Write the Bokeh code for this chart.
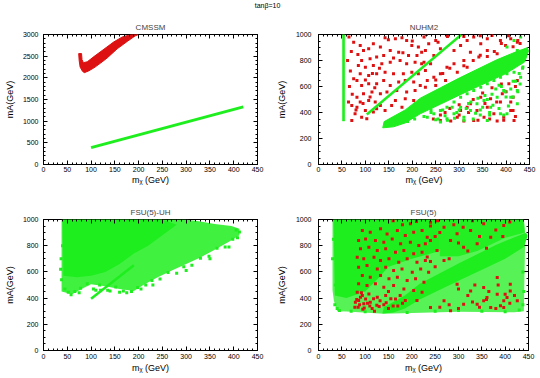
from bokeh.plotting import figure
from bokeh.layouts import column, row
from bokeh.models import Range1d, FixedTicker, LinearAxis, Label, CustomJSTickFormatter
from bokeh.embed import file_html
from bokeh.resources import INLINE

FONT = "Liberation Sans"
GREEN = "#1eee1e"
RED = "#dd1111"

main_title = "tan\u03b2=10"
x_label = "m\u1d6a (GeV)"
y_label = "mA(GeV)"
panel_titles = ["CMSSM", "NUHM2", "FSU(5)-UH", "FSU(5)"]

x_ticks = [0, 50, 100, 150, 200, 250, 300, 350, 400, 450]
x_minor = list(range(0, 451, 10))
y_ticks_cmssm = [0, 500, 1000, 1500, 2000, 2500, 3000]
y_minor_cmssm = list(range(0, 3001, 100))
y_ticks_k = [0, 200, 400, 600, 800, 1000]
y_minor_k = list(range(0, 1001, 50))

# ---------------- CMSSM ----------------
cmssm_red_band_x = [74, 75, 77, 82, 86, 95, 106, 120, 134, 155, 176, 193, 200, 185, 166, 148, 127, 106, 92, 84, 81, 80]
cmssm_red_band_y = [2560, 2400, 2250, 2150, 2120, 2160, 2230, 2340, 2460, 2670, 2840, 2970, 3000, 3000, 2945, 2830, 2660, 2490, 2370, 2350, 2420, 2560]
cmssm_green_x = [100, 420]
cmssm_green_y = [390, 1330]

# ---------------- NUHM2 ----------------
nuhm_strip_x = [51, 56, 56, 51]
nuhm_strip_y = [335, 335, 1000, 1000]
nuhm_line_x = [103, 305]
nuhm_line_y = [385, 1000]
nuhm_band_x = [137, 140, 185, 217, 260, 300, 340, 380, 420, 445, 448, 440, 400, 340, 300, 260, 217, 185, 160]
nuhm_band_y = [282, 330, 420, 510, 590, 665, 735, 805, 865, 898, 875, 790, 700, 600, 533, 464, 390, 320, 290]
nuhm_green_x = [232, 246, 260, 274, 289, 303, 317, 331, 346, 360, 374, 388, 402, 417, 431, 424, 410, 395, 381, 367, 353, 338,
                289, 310, 260, 324, 360, 402, 424, 388, 303, 274, 402, 424, 431, 417, 150, 165, 190, 205, 240, 345, 365, 430, 436,
                250, 270, 335, 355, 385, 415, 300, 320, 372, 398, 240, 225,
                255, 265, 285, 295, 315, 325, 340, 350, 360, 370, 378, 390, 400, 410, 420, 428, 435, 405, 385, 365, 345, 330,
                310, 290, 275, 395, 415, 425]
nuhm_green_y = [364, 390, 416, 441, 480, 518, 544, 569, 595, 621, 646, 672, 698, 710, 672, 569, 518, 569, 518, 441, 493, 467,
                390, 364, 326, 416, 339, 390, 467, 390, 441, 352, 903, 877, 980, 954, 300, 320, 330, 350, 400, 420, 380, 620, 750,
                345, 375, 395, 530, 610, 640, 420, 470, 455, 560, 420, 370,
                350, 420, 440, 400, 430, 480, 510, 440, 500, 540, 580, 600, 520, 580, 640, 700, 740, 450, 430, 400, 380, 350,
                340, 355, 340, 380, 520, 560]
nuhm_red_x = [89, 96, 84, 107, 117, 132, 142, 149, 164, 178, 188, 199, 213, 220, 210, 192, 171, 153, 139, 124, 110, 92, 85, 100,
              117, 135, 153, 174, 188, 206, 220, 228, 213, 199, 181, 160, 142, 124, 107, 89, 82, 92, 107, 124, 139, 153, 171, 185,
              203, 217, 206, 188, 167, 146, 132, 114, 96, 82, 89, 107, 121, 132, 142, 117, 100, 82, 71, 78, 92, 71, 103, 124, 164,
              185, 203, 178, 156,
              225, 235, 228, 250, 260, 246, 225, 239, 289, 303, 317, 331, 346, 360, 370, 388, 399, 410, 424, 324, 342, 310, 289, 274,
              260, 246, 232, 228, 250, 271, 296, 317, 360, 381, 324, 338, 360, 353, 374, 388, 395, 410, 417, 381, 331, 310, 296, 282,
              260, 392, 406, 424, 415, 415, 367, 346, 317, 303, 425,
              65, 75, 70, 62, 68, 75, 66, 72, 64, 80, 95, 110, 120, 100, 115, 130, 160, 180, 200, 230,
              250, 265, 280, 310, 330, 345, 360, 375, 390, 405, 415, 430, 345, 310, 275, 255,
              280, 300, 330, 350, 370, 390, 400, 420, 410, 380, 355, 320, 300, 270, 245, 260, 340, 365, 395, 420]
nuhm_red_y = [916, 877, 846, 890, 928, 903, 975, 959, 967, 975, 954, 916, 903, 864, 839, 839, 864, 877, 839, 826, 813, 800, 762, 749,
              762, 775, 787, 800, 775, 787, 775, 723, 698, 710, 698, 698, 710, 698, 685, 698, 646, 608, 621, 621, 646, 608, 634, 646,
              634, 608, 569, 557, 569, 557, 544, 557, 544, 518, 480, 493, 480, 454, 416, 403, 416, 441, 454, 390, 364, 339, 352, 428, 493,
              505, 493, 441, 454,
              980, 928, 877, 954, 890, 839, 787, 775, 877, 916, 954, 980, 928, 967, 993, 954, 916, 967, 941, 864, 826, 800, 775, 749,
              698, 672, 646, 595, 608, 646, 710, 749, 877, 851, 467, 416, 441, 364, 390, 480, 364, 416, 339, 335, 339, 335, 364, 335,
              339, 544, 621, 646, 518, 416, 505, 518, 441, 416, 954,
              980, 940, 870, 800, 720, 660, 600, 540, 480, 420, 470, 520, 590, 650, 700, 740, 820, 860, 950, 1000,
              650, 700, 740, 760, 800, 840, 830, 870, 930, 990, 905, 930, 990, 985, 985, 940,
              430, 460, 500, 550, 590, 620, 560, 600, 480, 480, 470, 400, 380, 400, 350, 380, 340, 350, 340, 370]

# ---------------- FSU(5)-UH ----------------
uh_outer_x = [38, 300, 330, 360, 395, 412, 412, 390, 360, 330, 300, 270, 240, 210, 190, 160, 130, 100, 80, 60, 38]
uh_outer_y = [1000, 1000, 985, 965, 950, 930, 880, 830, 770, 710, 660, 610, 560, 500, 455, 470, 490, 505, 470, 430, 450]
uh_dense_x = [40, 250, 280, 250, 220, 190, 160, 130, 100, 70, 42]
uh_dense_y = [1000, 1000, 960, 880, 800, 740, 660, 600, 570, 560, 570]
uh_line_x = [100, 190]
uh_line_y = [395, 650]
uh_green_x = [45, 52, 58, 66, 78, 92, 105, 118, 135, 152, 168, 185, 198, 215, 228, 245, 262, 280, 295, 312, 330, 348, 365, 382,
              398, 408, 412, 405, 38, 36, 37, 40, 140, 175, 120, 205,
              75, 110, 160, 230, 300, 350, 390]
uh_green_y = [470, 445, 425, 450, 475, 510, 470, 500, 460, 485, 455, 450, 480, 500, 535, 545, 595, 590, 640, 650, 705, 720, 780, 790,
              850, 860, 905, 920, 540, 620, 700, 800, 455, 440, 460, 470,
              440, 460, 445, 500, 610, 700, 790]

# ---------------- FSU(5) ----------------
fsu_outer_x = [30, 440, 443, 440, 420, 300, 140, 60, 40, 33, 30]
fsu_outer_y = [1000, 1000, 880, 300, 292, 295, 280, 298, 300, 380, 460]
fsu_dense_x = [32, 260, 260, 200, 150, 130, 100, 60, 35]
fsu_dense_y = [1000, 1000, 760, 700, 640, 560, 450, 400, 420]
fsu_top_x = [260, 440, 442, 400, 340, 300, 260]
fsu_top_y = [1000, 1000, 900, 860, 760, 720, 720]
fsu_band_x = [137, 140, 185, 217, 260, 300, 340, 380, 420, 445, 448, 440, 400, 340, 300, 260, 217, 185, 160]
fsu_band_y = [282, 330, 420, 510, 590, 665, 735, 805, 865, 898, 875, 790, 700, 600, 533, 464, 390, 320, 290]
fsu_green_x = [35, 40, 45, 70, 100, 190, 250, 300, 350, 400, 430, 438, 440, 438, 30, 32, 36]
fsu_green_y = [350, 320, 305, 300, 295, 290, 300, 305, 300, 295, 310, 350, 450, 600, 700, 850, 500]
fsu_red_x = [94, 111, 133, 147, 169, 186, 204, 222, 233, 86, 101, 122, 140, 158, 176, 197, 215, 229, 90, 108, 126, 144, 165, 183,
             204, 222, 83, 97, 119, 133, 151, 172, 190, 211, 229, 86, 104, 126, 144, 161, 179, 201, 219, 236, 94, 111, 133, 151,
             169, 190, 208, 226, 86, 104, 122, 140, 161, 183, 204, 222, 83, 94, 108, 126, 144, 165, 186, 211, 86, 97, 111, 90, 79, 101,
             85, 95, 110, 120, 130, 140, 150, 160,
             197, 240, 269, 297, 326, 354, 369, 397, 283, 311, 254, 340, 233, 269,
             297, 326, 354, 383, 397, 411, 369, 340, 397, 426, 383, 411, 354, 311, 361, 404, 390, 269, 240, 283,
             78, 88, 98, 105, 115, 125, 82, 92, 118, 132, 145, 155, 170, 180, 175, 150,
             160, 180, 210, 240, 255, 250, 240, 260, 290, 310, 330, 345, 380, 410, 395, 360, 320, 300, 280, 250, 240,
             300, 320, 335, 345, 365, 385, 400, 410, 380, 360, 330, 300, 280, 260, 420]
fsu_red_y = [916, 903, 929, 890, 916, 878, 903, 916, 865, 839, 852, 839, 827, 852, 814, 827, 801, 814, 776, 789, 763, 776, 750, 763,
             738, 750, 712, 700, 712, 687, 700, 674, 700, 674, 687, 636, 649, 623, 636, 610, 623, 598, 623, 598, 572, 560, 572, 547,
             560, 534, 547, 521, 509, 496, 509, 483, 496, 470, 458, 445, 445, 420, 432, 407, 420, 394, 381, 381, 381, 356, 369, 407, 369, 394,
             330, 315, 340, 300, 335, 350, 320, 340,
             967, 979, 941, 891, 916, 967, 865, 954, 840, 789, 763, 814, 713, 687,
             506, 455, 481, 430, 379, 455, 328, 354, 328, 379, 557, 506, 379, 354, 405, 405, 341, 379, 328, 303,
             330, 350, 325, 360, 320, 345, 390, 440, 395, 380, 365, 395, 340, 360, 420, 450,
             990, 960, 985, 950, 990, 870, 840, 900, 960, 940, 990, 870, 920, 980, 870, 780, 760, 820, 700, 640, 680,
             470, 420, 500, 330, 450, 500, 430, 360, 320, 390, 370, 320, 350, 330, 420]


def make_panel(title, width, height, bl, br, bt, bb, ymax, yticks, yminor,
               ytick_standoff, ylab_standoff, xtick_standoff, xlab_standoff):
    p = figure(width=width, height=height, output_backend="svg", toolbar_location=None,
               x_range=Range1d(0, 450), y_range=Range1d(0, ymax),
               min_border_left=bl, min_border_right=br, min_border_top=bt, min_border_bottom=bb,
               title=title)
    p.title.text_font = FONT
    p.title.text_font_size = "8px"
    p.title.text_font_style = "normal"
    p.title.align = "center"
    p.title.standoff = 6
    p.title.offset = 0
    p.xgrid.visible = False
    p.ygrid.visible = False
    p.outline_line_color = "black"
    p.outline_line_width = 1
    p.background_fill_color = "white"
    p.border_fill_color = "white"
    p.xaxis.ticker = FixedTicker(ticks=x_ticks, minor_ticks=x_minor)
    p.yaxis.ticker = FixedTicker(ticks=yticks, minor_ticks=yminor)
    p.xaxis.axis_label = x_label
    p.yaxis.axis_label = y_label
    for ax in (p.xaxis[0], p.yaxis[0]):
        ax.axis_line_color = None
        ax.major_tick_in = 4
        ax.major_tick_out = 0
        ax.minor_tick_in = 2
        ax.minor_tick_out = 0
        ax.major_tick_line_color = "black"
        ax.minor_tick_line_color = "black"
        ax.major_label_text_font = FONT
        ax.major_label_text_font_size = "7px"
        ax.major_label_text_color = "black"
        ax.axis_label_text_font = FONT
        ax.axis_label_text_font_size = "9px"
        ax.axis_label_text_font_style = "normal"
        ax.axis_label_text_color = "black"
    p.xaxis.major_label_standoff = xtick_standoff
    p.xaxis.axis_label_standoff = xlab_standoff
    p.yaxis.major_label_standoff = ytick_standoff
    p.yaxis.axis_label_standoff = ylab_standoff
    blank = CustomJSTickFormatter(code="return ''")
    top = LinearAxis(ticker=FixedTicker(ticks=x_ticks, minor_ticks=x_minor), formatter=blank,
                     axis_line_color=None, major_tick_in=4, major_tick_out=0, minor_tick_in=2, minor_tick_out=0,
                     major_label_standoff=0, major_label_text_font_size="1px")
    right = LinearAxis(ticker=FixedTicker(ticks=yticks, minor_ticks=yminor), formatter=blank,
                       axis_line_color=None, major_tick_in=4, major_tick_out=0, minor_tick_in=2, minor_tick_out=0,
                       major_label_standoff=0, major_label_text_font_size="1px")
    p.add_layout(top, "above")
    p.add_layout(right, "right")
    return p


# title strip
pt = figure(width=540, height=14, output_backend="svg", toolbar_location=None,
            x_range=Range1d(0, 540), y_range=Range1d(0, 14), x_axis_type=None, y_axis_type=None,
            min_border=0, outline_line_color=None)
pt.grid.visible = False
pt.add_layout(Label(x=267, y=9, text=main_title, text_font=FONT, text_font_size="7px",
                    text_align="center", text_baseline="middle", text_color="black"))

# top row: height 176, bottom row: height 188 ; widths 272 + 268
p1 = make_panel(panel_titles[0], 272, 176, 43, 15, 20, 26, 3000, y_ticks_cmssm, y_minor_cmssm, 5, 5, 2, 0)
p2 = make_panel(panel_titles[1], 268, 176, 46, 11, 20, 26, 1000, y_ticks_k, y_minor_k, 7, 6, 2, 0)
p3 = make_panel(panel_titles[2], 272, 188, 43, 15, 29, 28, 1000, y_ticks_k, y_minor_k, 5, 5, 3, 1)
p4 = make_panel(panel_titles[3], 268, 188, 46, 12, 29, 28, 1000, y_ticks_k, y_minor_k, 7, 6, 3, 1)

# CMSSM
p1.patch(cmssm_red_band_x, cmssm_red_band_y, fill_color=RED, line_color=RED, line_width=1)
p1.line(cmssm_green_x, cmssm_green_y, line_color=GREEN, line_width=3)

# NUHM2
p2.patch(nuhm_strip_x, nuhm_strip_y, fill_color=GREEN, line_color=GREEN, line_width=0.5)
p2.scatter(nuhm_red_x, nuhm_red_y, marker="square", size=3, fill_color=RED, line_color=None)
p2.line(nuhm_line_x, nuhm_line_y, line_color=GREEN, line_width=2.5)
p2.scatter(nuhm_green_x, nuhm_green_y, marker="square", size=3, fill_color=GREEN, line_color=None)
p2.patch(nuhm_band_x, nuhm_band_y, fill_color=GREEN, line_color=GREEN, line_width=1)

# FSU(5)-UH
p3.patch(uh_outer_x, uh_outer_y, fill_color=GREEN, fill_alpha=0.85, line_color=None)
p3.patch(uh_dense_x, uh_dense_y, fill_color=GREEN, line_color=None)
p3.line(uh_line_x, uh_line_y, line_color=GREEN, line_width=2.5)
p3.scatter(uh_green_x, uh_green_y, marker="square", size=3, fill_color=GREEN, line_color=None)

# FSU(5)
p4.patch(fsu_outer_x, fsu_outer_y, fill_color=GREEN, fill_alpha=0.75, line_color=None)
p4.patch(fsu_dense_x, fsu_dense_y, fill_color=GREEN, line_color=None)
p4.patch(fsu_top_x, fsu_top_y, fill_color=GREEN, fill_alpha=0.9, line_color=None)
p4.patch(fsu_band_x, fsu_band_y, fill_color=GREEN, line_color=None)
p4.scatter(fsu_green_x, fsu_green_y, marker="square", size=3, fill_color=GREEN, line_color=None)
p4.scatter(fsu_red_x, fsu_red_y, marker="square", size=3, fill_color=RED, line_color=None)

layout = column(pt, row(p1, p2), row(p3, p4))
open("out.html", "w").write(file_html(layout, INLINE))
